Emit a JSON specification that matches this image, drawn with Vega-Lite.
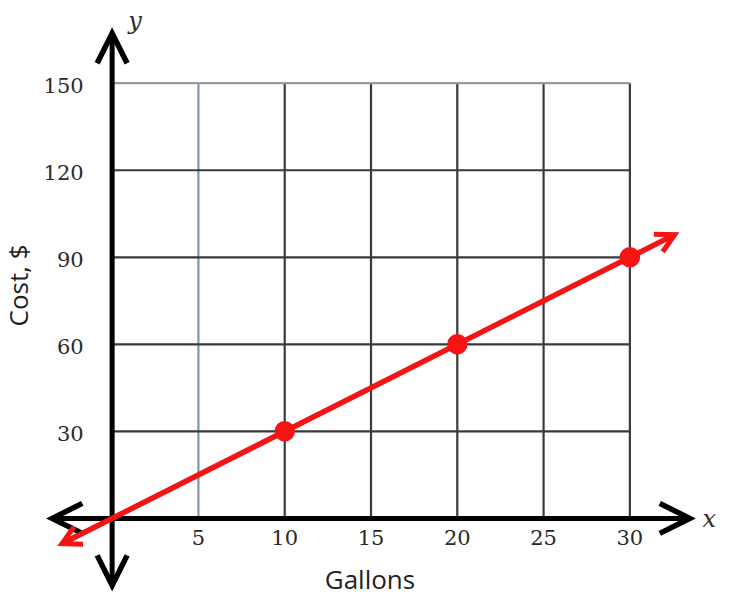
{
  "$schema": "https://vega.github.io/schema/vega-lite/v6.json",
  "width": 642,
  "height": 557,
  "autosize": {"type": "none"},
  "padding": {"left": 50, "top": 31, "right": 38, "bottom": 8},
  "background": "white",
  "config": {"view": {"stroke": null}, "axis": {"disable": true}},
  "datasets": {
    "points": [
      {"gallons": 10, "cost": 30},
      {"gallons": 20, "cost": 60},
      {"gallons": 30, "cost": 90}
    ],
    "line": [
      {"gallons": -2.8, "cost": -8.4},
      {"gallons": 32.4, "cost": 97.2}
    ],
    "xticks": [{"v": 5}, {"v": 10}, {"v": 15}, {"v": 20}, {"v": 25}, {"v": 30}],
    "yticks": [{"v": 30}, {"v": 60}, {"v": 90}, {"v": 120}, {"v": 150}],
    "arrows": [
      {"x": 33.47, "y": 0, "dir": "right"},
      {"x": -3.47, "y": 0, "dir": "left"},
      {"x": 0, "y": 167.2, "dir": "up"},
      {"x": 0, "y": -23.1, "dir": "down"}
    ],
    "redArrows": [
      {"gallons": 32.6, "cost": 97.8, "dir": "ne"},
      {"gallons": -2.9, "cost": -8.7, "dir": "sw"}
    ],
    "labels": [
      {"x": 14.94, "y": -21.6, "text": "Gallons"}
    ],
    "vlabels": [
      {"x": -5.35, "y": 80.3, "text": "Cost, $"}
    ],
    "varnames": [
      {"x": 1.33, "y": 171, "text": "y"},
      {"x": 34.6, "y": -0.7, "text": "x"}
    ]
  },
  "layer": [
    {
      "data": {"name": "xticks"},
      "mark": {"type": "rule", "strokeWidth": 2.2},
      "encoding": {
        "x": {"field": "v", "type": "quantitative", "scale": {"domain": [-3.6, 33.6], "nice": false, "zero": false}},
        "y": {"datum": 0, "type": "quantitative", "scale": {"domain": [-24, 168], "nice": false, "zero": false}},
        "y2": {"datum": 150},
        "color": {"condition": {"test": "datum.v == 5", "value": "#7f95b0"}, "value": "#3a3a3a"}
      }
    },
    {
      "data": {"name": "yticks"},
      "mark": {"type": "rule", "strokeWidth": 2.2},
      "encoding": {
        "y": {"field": "v", "type": "quantitative", "scale": {"domain": [-24, 168], "nice": false, "zero": false}},
        "x": {"datum": 0, "type": "quantitative", "scale": {"domain": [-3.6, 33.6], "nice": false, "zero": false}},
        "x2": {"datum": 30},
        "color": {"condition": {"test": "datum.v == 150", "value": "#9a9a9a"}, "value": "#3a3a3a"},
        "strokeWidth": {"condition": {"test": "datum.v == 150", "value": 3}, "value": 2.2}
      }
    },
    {
      "data": {"values": [{"a": 1}]},
      "mark": {"type": "rule", "strokeWidth": 5, "color": "black"},
      "encoding": {
        "x": {"datum": -3.2, "type": "quantitative", "scale": {"domain": [-3.6, 33.6], "nice": false, "zero": false}},
        "x2": {"datum": 33.2},
        "y": {"datum": 0, "type": "quantitative", "scale": {"domain": [-24, 168], "nice": false, "zero": false}}
      }
    },
    {
      "data": {"values": [{"a": 1}]},
      "mark": {"type": "rule", "strokeWidth": 5, "color": "black"},
      "encoding": {
        "y": {"datum": -22, "type": "quantitative", "scale": {"domain": [-24, 168], "nice": false, "zero": false}},
        "y2": {"datum": 166},
        "x": {"datum": 0, "type": "quantitative", "scale": {"domain": [-3.6, 33.6], "nice": false, "zero": false}}
      }
    },
    {
      "data": {"name": "arrows"},
      "transform": [{"filter": "datum.dir == 'right'"}],
      "mark": {"type": "point", "shape": "M -2 -1 L 0 0 L -2 1", "filled": false, "size": 900, "strokeWidth": 5.5, "color": "black", "opacity": 1, "strokeJoin": "miter", "strokeCap": "butt", "angle": 0},
      "encoding": {
        "x": {"field": "x", "type": "quantitative", "scale": {"domain": [-3.6, 33.6], "nice": false, "zero": false}},
        "y": {"field": "y", "type": "quantitative", "scale": {"domain": [-24, 168], "nice": false, "zero": false}}
      }
    },
    {
      "data": {"name": "arrows"},
      "transform": [{"filter": "datum.dir == 'left'"}],
      "mark": {"type": "point", "shape": "M -2 -1 L 0 0 L -2 1", "filled": false, "size": 900, "strokeWidth": 5.5, "color": "black", "opacity": 1, "strokeJoin": "miter", "strokeCap": "butt", "angle": 180},
      "encoding": {
        "x": {"field": "x", "type": "quantitative", "scale": {"domain": [-3.6, 33.6], "nice": false, "zero": false}},
        "y": {"field": "y", "type": "quantitative", "scale": {"domain": [-24, 168], "nice": false, "zero": false}}
      }
    },
    {
      "data": {"name": "arrows"},
      "transform": [{"filter": "datum.dir == 'up'"}],
      "mark": {"type": "point", "shape": "M -2 -1 L 0 0 L -2 1", "filled": false, "size": 900, "strokeWidth": 5.5, "color": "black", "opacity": 1, "strokeJoin": "miter", "strokeCap": "butt", "angle": 270},
      "encoding": {
        "x": {"field": "x", "type": "quantitative", "scale": {"domain": [-3.6, 33.6], "nice": false, "zero": false}},
        "y": {"field": "y", "type": "quantitative", "scale": {"domain": [-24, 168], "nice": false, "zero": false}}
      }
    },
    {
      "data": {"name": "arrows"},
      "transform": [{"filter": "datum.dir == 'down'"}],
      "mark": {"type": "point", "shape": "M -2 -1 L 0 0 L -2 1", "filled": false, "size": 900, "strokeWidth": 5.5, "color": "black", "opacity": 1, "strokeJoin": "miter", "strokeCap": "butt", "angle": 90},
      "encoding": {
        "x": {"field": "x", "type": "quantitative", "scale": {"domain": [-3.6, 33.6], "nice": false, "zero": false}},
        "y": {"field": "y", "type": "quantitative", "scale": {"domain": [-24, 168], "nice": false, "zero": false}}
      }
    },
    {
      "data": {"name": "line"},
      "mark": {"type": "line", "color": "#f41414", "strokeWidth": 5.5},
      "encoding": {
        "x": {"field": "gallons", "type": "quantitative", "scale": {"domain": [-3.6, 33.6], "nice": false, "zero": false}},
        "y": {"field": "cost", "type": "quantitative", "scale": {"domain": [-24, 168], "nice": false, "zero": false}}
      }
    },
    {
      "data": {"name": "redArrows"},
      "transform": [{"filter": "datum.dir == 'ne'"}],
      "mark": {"type": "point", "shape": "M -1.76 -0.94 L 0 0 L -1.76 0.94", "filled": false, "size": 440, "strokeWidth": 5, "color": "#f41414", "opacity": 1, "strokeJoin": "miter", "strokeCap": "butt", "angle": 333.3},
      "encoding": {
        "x": {"field": "gallons", "type": "quantitative", "scale": {"domain": [-3.6, 33.6], "nice": false, "zero": false}},
        "y": {"field": "cost", "type": "quantitative", "scale": {"domain": [-24, 168], "nice": false, "zero": false}}
      }
    },
    {
      "data": {"name": "redArrows"},
      "transform": [{"filter": "datum.dir == 'sw'"}],
      "mark": {"type": "point", "shape": "M -1.76 -0.94 L 0 0 L -1.76 0.94", "filled": false, "size": 440, "strokeWidth": 5, "color": "#f41414", "opacity": 1, "strokeJoin": "miter", "strokeCap": "butt", "angle": 153.3},
      "encoding": {
        "x": {"field": "gallons", "type": "quantitative", "scale": {"domain": [-3.6, 33.6], "nice": false, "zero": false}},
        "y": {"field": "cost", "type": "quantitative", "scale": {"domain": [-24, 168], "nice": false, "zero": false}}
      }
    },
    {
      "data": {"name": "points"},
      "mark": {"type": "circle", "size": 420, "color": "#f41414", "opacity": 1},
      "encoding": {
        "x": {"field": "gallons", "type": "quantitative", "scale": {"domain": [-3.6, 33.6], "nice": false, "zero": false}},
        "y": {"field": "cost", "type": "quantitative", "scale": {"domain": [-24, 168], "nice": false, "zero": false}}
      }
    },
    {
      "data": {"name": "xticks"},
      "mark": {"type": "text", "font": "DejaVu Serif", "fontSize": 21, "color": "#2a2a2a", "baseline": "middle", "align": "center"},
      "encoding": {
        "x": {"field": "v", "type": "quantitative", "scale": {"domain": [-3.6, 33.6], "nice": false, "zero": false}},
        "y": {"datum": -7.2, "type": "quantitative", "scale": {"domain": [-24, 168], "nice": false, "zero": false}},
        "text": {"field": "v", "type": "quantitative"}
      }
    },
    {
      "data": {"name": "yticks"},
      "mark": {"type": "text", "font": "DejaVu Serif", "fontSize": 21, "color": "#2a2a2a", "baseline": "middle", "align": "right", "dy": 4},
      "encoding": {
        "y": {"field": "v", "type": "quantitative", "scale": {"domain": [-24, 168], "nice": false, "zero": false}},
        "x": {"datum": -1.65, "type": "quantitative", "scale": {"domain": [-3.6, 33.6], "nice": false, "zero": false}},
        "text": {"field": "v", "type": "quantitative"}
      }
    },
    {
      "data": {"name": "labels"},
      "mark": {"type": "text", "font": "Open Sans", "fontSize": 26, "color": "#1f1f1f", "baseline": "middle", "align": "center"},
      "encoding": {
        "x": {"field": "x", "type": "quantitative", "scale": {"domain": [-3.6, 33.6], "nice": false, "zero": false}},
        "y": {"field": "y", "type": "quantitative", "scale": {"domain": [-24, 168], "nice": false, "zero": false}},
        "text": {"field": "text"}
      }
    },
    {
      "data": {"name": "vlabels"},
      "mark": {"type": "text", "font": "Open Sans", "fontSize": 26, "color": "#1f1f1f", "baseline": "middle", "align": "center", "angle": 270},
      "encoding": {
        "x": {"field": "x", "type": "quantitative", "scale": {"domain": [-3.6, 33.6], "nice": false, "zero": false}},
        "y": {"field": "y", "type": "quantitative", "scale": {"domain": [-24, 168], "nice": false, "zero": false}},
        "text": {"field": "text"}
      }
    },
    {
      "data": {"name": "varnames"},
      "mark": {"type": "text", "font": "DejaVu Serif", "fontStyle": "italic", "fontSize": 24, "color": "#2e2e2e", "baseline": "middle", "align": "center"},
      "encoding": {
        "x": {"field": "x", "type": "quantitative", "scale": {"domain": [-3.6, 33.6], "nice": false, "zero": false}},
        "y": {"field": "y", "type": "quantitative", "scale": {"domain": [-24, 168], "nice": false, "zero": false}},
        "text": {"field": "text"}
      }
    }
  ]
}
